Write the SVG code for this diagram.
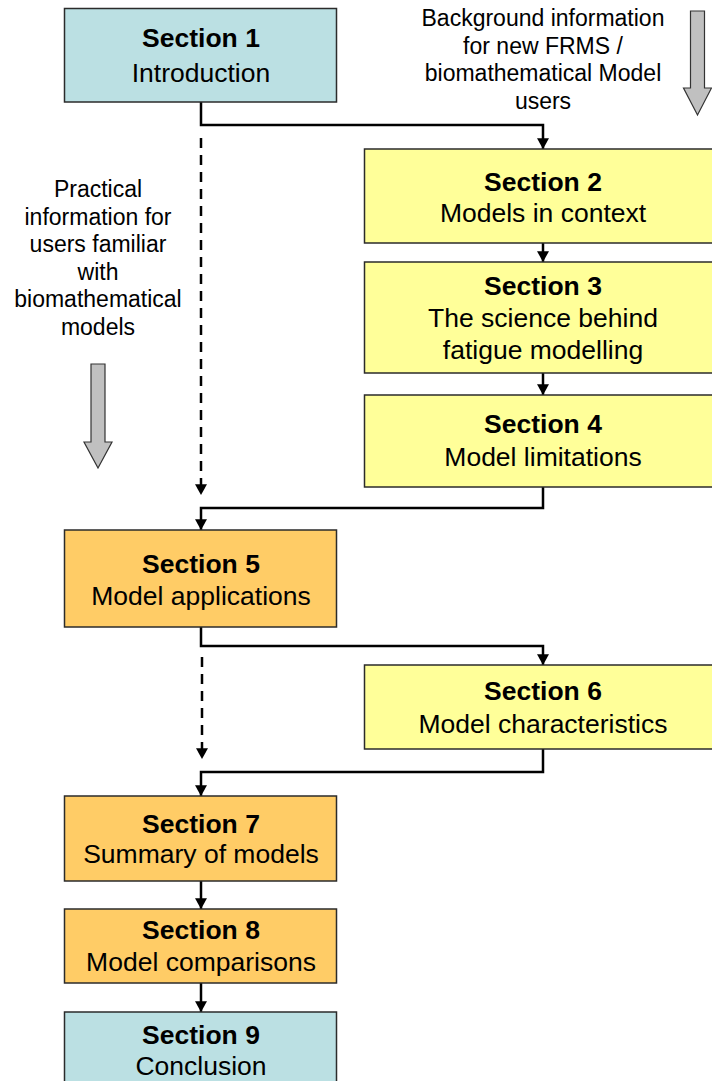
<svg xmlns="http://www.w3.org/2000/svg" width="712" height="1081" viewBox="0 0 712 1081">
<defs>
<style>
.box{stroke:#2b2b2b;stroke-width:1.5}
.blue{fill:#BBE0E3}
.yel{fill:#FFFF99}
.org{fill:#FFCC66}
.t{font-family:"Liberation Sans",Arial,sans-serif;font-size:26.5px;fill:#000;text-anchor:middle}
.b{font-weight:bold}
.n{font-family:"Liberation Sans",Arial,sans-serif;font-size:23px;fill:#000;text-anchor:middle}
.c{fill:none;stroke:#000;stroke-width:2.5}
.d{fill:none;stroke:#000;stroke-width:2.5;stroke-dasharray:10 7}
.g{fill:#C0C0C0;stroke:#333;stroke-width:1.2}
</style>
<marker id="ah" markerUnits="userSpaceOnUse" markerWidth="12" markerHeight="12" refX="5" refY="9" orient="0" viewBox="0 0 10 10">
<path d="M0,0 L10,0 L5,9 Z" fill="#000"/>
</marker>
</defs>
<rect width="712" height="1081" fill="#fff"/>

<g id="connectors">
<path class="c" d="M201,102 V125 H543 V149" marker-end="url(#ah)"/>
<path class="d" d="M201,138 V495" marker-end="url(#ah)"/>
<path class="c" d="M543,243 V262" marker-end="url(#ah)"/>
<path class="c" d="M543,373 V395" marker-end="url(#ah)"/>
<path class="c" d="M543,487 V508 H201 V530" marker-end="url(#ah)"/>
<path class="c" d="M201,627 V646 H543 V665" marker-end="url(#ah)"/>
<path class="d" d="M202,657 V759" marker-end="url(#ah)"/>
<path class="c" d="M543,749 V772 H201 V796" marker-end="url(#ah)"/>
<path class="c" d="M201,881 V909" marker-end="url(#ah)"/>
<path class="c" d="M201,983 V1012" marker-end="url(#ah)"/>
</g>

<g id="arrow-right">
<polygon class="g" points="690.5,11 704.5,11 704.5,88 711.5,88 697.5,115 683.5,88 690.5,88"/>
</g>
<g id="arrow-left">
<polygon class="g" points="91,364 105,364 105,442 112,442 98,468 84,442 91,442"/>
</g>

<g id="note-right">
<text class="n" x="543" y="26">Background information</text>
<text class="n" x="543" y="53.5">for new FRMS /</text>
<text class="n" x="543" y="81">biomathematical Model</text>
<text class="n" x="543" y="108.5">users</text>
</g>
<g id="note-left">
<text class="n" x="98" y="197">Practical</text>
<text class="n" x="98" y="224.5">information for</text>
<text class="n" x="98" y="252">users familiar</text>
<text class="n" x="98" y="279.5">with</text>
<text class="n" x="98" y="307">biomathematical</text>
<text class="n" x="98" y="334.5">models</text>
</g>

<g id="s1">
<rect class="box blue" x="64.5" y="8.5" width="272" height="93.5"/>
<text class="t b" x="201" y="47">Section 1</text>
<text class="t" x="201" y="82">Introduction</text>
</g>
<g id="s2">
<rect class="box yel" x="364.5" y="149" width="360" height="94"/>
<text class="t b" x="543" y="190.5">Section 2</text>
<text class="t" x="543" y="221.5">Models in context</text>
</g>
<g id="s3">
<rect class="box yel" x="364.5" y="262" width="360" height="111"/>
<text class="t b" x="543" y="295">Section 3</text>
<text class="t" x="543" y="327">The science behind</text>
<text class="t" x="543" y="359">fatigue modelling</text>
</g>
<g id="s4">
<rect class="box yel" x="364.5" y="395" width="360" height="92"/>
<text class="t b" x="543" y="433">Section 4</text>
<text class="t" x="543" y="466">Model limitations</text>
</g>
<g id="s5">
<rect class="box org" x="64.5" y="530" width="272" height="97"/>
<text class="t b" x="201" y="573">Section 5</text>
<text class="t" x="201" y="605">Model applications</text>
</g>
<g id="s6">
<rect class="box yel" x="364.5" y="665" width="360" height="84"/>
<text class="t b" x="543" y="700">Section 6</text>
<text class="t" x="543" y="732.5">Model characteristics</text>
</g>
<g id="s7">
<rect class="box org" x="64.5" y="796" width="272" height="85"/>
<text class="t b" x="201" y="833">Section 7</text>
<text class="t" x="201" y="863">Summary of models</text>
</g>
<g id="s8">
<rect class="box org" x="64.5" y="909" width="272" height="74"/>
<text class="t b" x="201" y="939">Section 8</text>
<text class="t" x="201" y="970.5">Model comparisons</text>
</g>
<g id="s9">
<rect class="box blue" x="64.5" y="1012" width="272" height="80"/>
<text class="t b" x="201" y="1044">Section 9</text>
<text class="t" x="201" y="1075">Conclusion</text>
</g>
</svg>
